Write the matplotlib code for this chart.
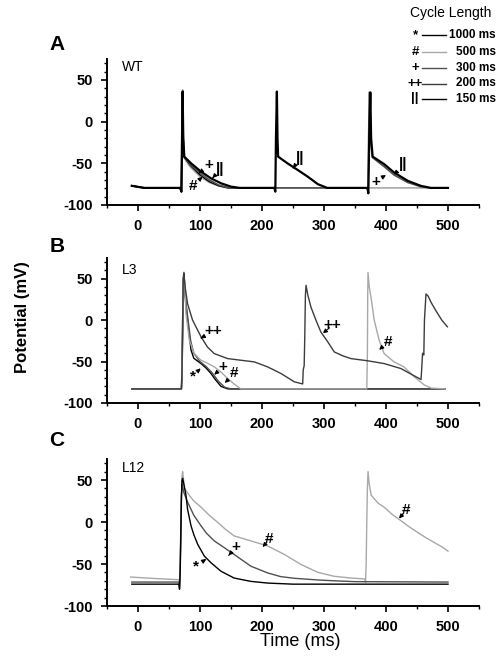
import matplotlib
matplotlib.use("Agg")
import matplotlib.pyplot as plt
from matplotlib.lines import Line2D
from matplotlib.ticker import MultipleLocator

plt.rcParams['font.family'] = ['Liberation Sans', 'DejaVu Sans']
plt.rcParams['axes.unicode_minus'] = False

# ---- panel A (WT) ----
a_t_1000 = [-10, 10, 68, 70, 71, 72, 73, 74, 80, 85, 100, 115, 130, 145, 160]
a_v_1000 = [-77, -79.5, -79.5, -84, -20, 36, -20, -42, -48, -53, -64, -72, -77, -79.5, -79.5]
a_t_500 = [-10, 10, 68, 70, 71, 72, 73, 74, 80, 85, 100, 115, 130, 145, 500]
a_v_500 = [-77, -79.5, -79.5, -84, -20, 38, -20, -43, -50, -55, -66, -73, -77, -79.5, -79.5]
a_t_300 = [-10, 10, 68, 70, 71, 72, 73, 74, 85, 100, 115, 130, 145, 160, 370, 371, 372, 373, 375,
           378, 397, 413, 435, 456, 472, 500]
a_v_300 = [-77, -79.5, -79.5, -84, -20, 36, -20, -42, -52, -62, -70, -76, -79, -79.5, -79.5, -84, -20,
           35, -20, -43, -54, -64, -73, -78, -79.5, -79.5]
a_t_150 = [-10, 10, 68, 70, 71, 72, 73, 74.7, 85.5, 101.6, 117.7, 134, 150, 164, 220, 221.5, 222.5,
           224, 225, 226, 241, 257.6, 273.7, 290, 305, 370, 371.5, 373, 374.7, 376, 378.5, 397, 413,
           435, 456, 472, 500]
a_v_150 = [-77, -79.5, -79.5, -84, -20, 36, -20, -42, -50, -60, -68, -74, -78, -79.5, -79.5, -84,
           -20, 36, -20, -42, -50, -58, -66, -75, -79.5, -79.5, -86, -20, 35, -20, -42, -51, -61,
           -71, -77, -79.5, -79.5]

# ---- panel B (L3) ----
b_t_1000 = [-10, 70, 71, 72, 73, 74, 75, 77, 80, 85.5, 90, 101.6, 110, 117.7, 125, 134, 145, 495]
b_v_1000 = [-83, -83, -70, -20, 40, 57, 45, 20, 0, -36, -46, -52.4, -58, -64.4, -72, -80, -83, -83]
b_t_300 = [-10, 70, 71, 72, 73, 74, 76, 80, 85, 90, 100, 110, 120, 130, 140, 150, 495]
b_v_300 = [-83, -83, -60, 0, 50, 55, 30, 5, -25, -40, -50, -56, -64, -74, -81, -83, -83]
b_t_500 = [-10, 70, 71, 72, 73, 74, 76, 77.4, 82.8, 90.8, 101.6, 112, 123, 133, 144.6, 155, 166,
           369, 370, 370.5, 371, 373, 375.8, 381, 389, 397, 413, 429, 445.6, 462, 473, 495]
b_v_500 = [-83, -83, -60, 0, 50, 58, 35, 7.6, -24.4, -40.4, -48.4, -52, -56.4, -62, -70.4, -77,
           -83, -83, -40, 30, 57.6, 40, 27.6, 0, -24.4, -40.4, -50.4, -56.4, -68.4, -78.4, -82, -83]
b_t_200 = [-10, 70, 71, 72, 73, 74, 76, 80, 88, 101.6, 112, 123, 144.6, 187.6, 209, 230.6, 252,
           265.6, 266.5, 268, 269, 270, 271, 274, 279, 287, 295, 305, 316.6, 330, 343.5, 370, 397,
           424, 440, 456.5, 457.5, 459, 461, 462, 464.5, 468, 472.6, 480, 490, 499]
b_v_200 = [-83, -83, -60, 0, 50, 57, 40, 19.7, 0, -20, -32.4, -40.4, -46.4, -50.4, -56.4, -64.4,
           -74.4, -77, -60, -55, -20, 30, 42, 30, 15.6, 0, -14.4, -25, -38.4, -43, -46.4, -49,
           -52.4, -58.4, -65, -71.6, -60, -40, -42, 0, 31.6, 29, 21.6, 12, 0, -8]

# ---- panel C (L12) ----
c_t_1000 = [-10, 66, 67, 68, 69, 70, 71, 72, 74, 77.4, 80, 85.5, 90, 96.2, 107, 117.7, 134, 155,
            182, 209, 250, 500]
c_v_1000 = [-74, -74, -80, -60, -20, 30, 50, 52, 45, 31.7, 15, -4.5, -15, -26.5, -40.6, -48.5,
            -58.7, -66.7, -70.7, -72.7, -74, -74]
c_t_300 = [-10, 66, 67, 68, 69, 70, 71, 72, 74, 80, 90, 101.6, 110, 123, 140, 155, 182, 209, 230,
           252, 290, 316, 350, 500]
c_v_300 = [-71.5, -71.5, -78, -55, -10, 30, 45, 42, 35, 23.7, 8, -4.5, -13, -22.5, -31, -38.6,
           -52.6, -60.6, -65, -67, -69, -70, -71, -71.5]
c_t_500 = [-12, 20, 60, 66, 67, 68, 69, 70, 71, 72, 75, 82.8, 90, 101.6, 115, 128.5, 140, 155, 182,
           209, 236, 263, 290, 316, 343, 366, 367, 368, 369, 370, 371, 373, 376, 381, 388, 397, 410,
           424, 437, 451, 464, 478, 490, 500]
c_v_500 = [-65.5, -67, -68.5, -68.7, -75, -60, -20, 20, 55, 60, 40, 31.7, 25, 17.7, 8, -0.4, -8,
           -16.5, -22.5, -28.5, -38.6, -50.6, -59.9, -64.6, -66.7, -67.8, -72, -50, 0, 40, 60, 45,
           32, 27.7, 22, 17.7, 9, 1.6, -5.5, -12.4, -18.5, -24.5, -29.5, -34.6]

# annotations: (symbol, text x, text y, arrow tip x, arrow tip y)
a_notes = [('#', 89, -77, 104, -66), ('+', 115, -52, 98, -62), ('||', 133, -57, 120, -68),
           ('||', 261, -44, 250, -56), ('||', 428, -51, 413, -64), ('+', 383, -72, 400, -64)]
b_notes = [('++', 121, -13, 101, -22), ('*', 88, -68, 101, -58), ('+', 137, -56, 123, -66),
           ('#', 155, -64, 140, -76), ('++', 314, -6, 298, -16), ('#', 403, -26, 389, -36)]
c_notes = [('*', 93, -53, 110, -44), ('+', 158, -30, 146, -40), ('#', 212, -20, 201, -30),
           ('#', 432, 14, 421, 4)]

legend_labels = ['1000 ms', '500 ms', '300 ms', '200 ms', '150 ms']
legend_syms = ['*', '#', '+', '++', '||']

C1000, C500, C300, C200, C150 = 'black', '#a8a8a8', '#505050', '#3c3c3c', 'black'

fig = plt.figure(figsize=(5.02, 6.62), dpi=100)
W, H = 502, 662


def make_ax(top, bottom):
    ax = fig.add_axes([107 / W, 1 - bottom / H, 372 / W, (bottom - top) / H])
    ax.set_xlim(-50, 550)
    ax.set_ylim(-100, 75)
    for s in ['top', 'right']:
        ax.spines[s].set_visible(False)
    for s in ['left', 'bottom']:
        ax.spines[s].set_linewidth(1.4)
    ax.set_xticks([0, 100, 200, 300, 400, 500])
    ax.set_yticks([-100, -50, 0, 50])
    ax.xaxis.set_minor_locator(MultipleLocator(50))
    ax.yaxis.set_minor_locator(MultipleLocator(10))
    ax.tick_params(which='major', direction='out', length=4, width=1.2, labelsize=10.5, pad=6)
    ax.tick_params(which='minor', direction='out', length=2.5, width=1)
    for lab in ax.get_xticklabels() + ax.get_yticklabels():
        lab.set_fontweight('bold')
    return ax


def annotate(ax, notes):
    for sym, tx, ty, px, py in notes:
        ax.annotate(sym, xy=(px, py), xytext=(tx, ty), fontsize=11, fontweight='bold',
                    ha='center', va='center',
                    arrowprops=dict(arrowstyle='-|>', color='black', lw=0.9,
                                    mutation_scale=6, shrinkA=3, shrinkB=0,
                                    linestyle=(0, (2, 1))))


axA = make_ax(59, 205)
axA.plot(a_t_500, a_v_500, color=C500, lw=1.2)
axA.plot(a_t_1000, a_v_1000, color=C1000, lw=1.0)
axA.plot(a_t_300, a_v_300, color=C300, lw=1.2)
axA.plot(a_t_150, a_v_150, color=C150, lw=1.6)
annotate(axA, a_notes)
axA.text(0.04, 0.945, 'WT', transform=axA.transAxes, fontsize=10, va='center')

axB = make_ax(258, 403)
axB.plot(b_t_1000, b_v_1000, color=C1000, lw=1.0)
axB.plot(b_t_300, b_v_300, color=C300, lw=1.0)
axB.plot(b_t_500, b_v_500, color=C500, lw=1.0)
axB.plot(b_t_200, b_v_200, color=C200, lw=1.0)
annotate(axB, b_notes)
axB.text(0.04, 0.917, 'L3', transform=axB.transAxes, fontsize=10, va='center')

axC = make_ax(459, 606)
axC.plot(c_t_500, c_v_500, color=C500, lw=1.0)
axC.plot(c_t_300, c_v_300, color=C300, lw=1.0)
axC.plot(c_t_1000, c_v_1000, color=C1000, lw=1.0)
annotate(axC, c_notes)
axC.text(0.04, 0.94, 'L12', transform=axC.transAxes, fontsize=10, va='center')

for letter, y in [('A', 45), ('B', 247), ('C', 441)]:
    fig.text(57 / W, 1 - y / H, letter, fontsize=15, fontweight='bold', ha='center', va='center')

fig.text(23 / W, 1 - 317 / H, 'Potential (mV)', fontsize=12, fontweight='bold',
         rotation=90, ha='center', va='center')
fig.text(300 / W, 1 - 642 / H, 'Time (ms)', fontsize=13, ha='center', va='center')

# legend
fig.text(451 / W, 1 - 13 / H, 'Cycle Length', fontsize=10, ha='center', va='center')
leg_colors = [C1000, C500, C300, C200, C150]
leg_y = [35, 52, 68, 83.5, 98.5]
for sym, lab, col, y in zip(legend_syms, legend_labels, leg_colors, leg_y):
    fig.text(415 / W, 1 - y / H, sym, fontsize=9.5, fontweight='bold', ha='center', va='center')
    fig.add_artist(Line2D([422 / W, 446 / W], [1 - y / H, 1 - y / H], color=col, lw=1.0,
                          transform=fig.transFigure))
    fig.text(496 / W, 1 - y / H, lab, fontsize=8.5, fontweight='bold', ha='right', va='center')

fig.savefig('out.png', dpi=100)
